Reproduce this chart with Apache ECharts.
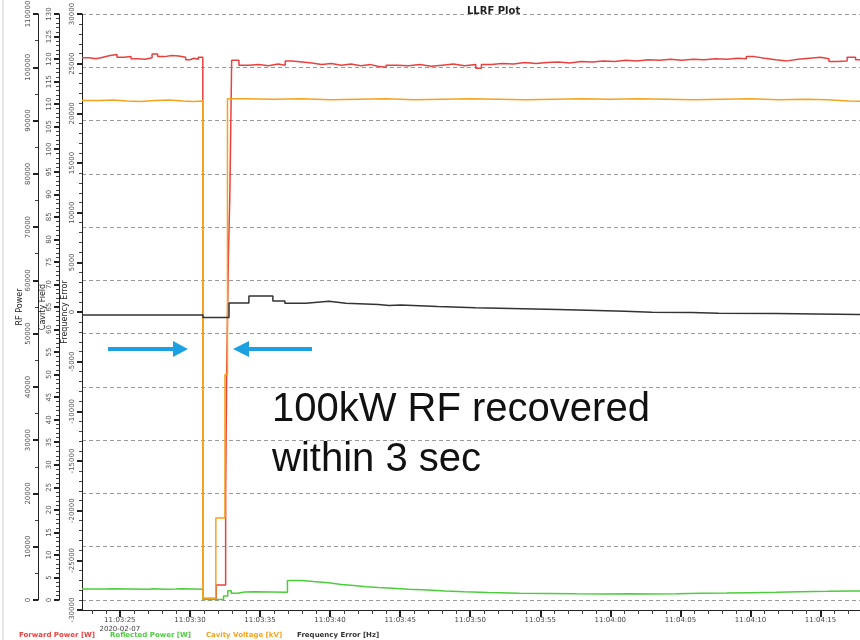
<!DOCTYPE html>
<html><head><meta charset="utf-8">
<script src="https://cdn.jsdelivr.net/npm/echarts@6/dist/echarts.min.js"></script>
<style>html,body{margin:0;padding:0;background:#fff}#c{width:860px;height:640px}</style>
</head><body><div id="c"></div>
<script>
// ---------------- data ----------------
const chartTitle = 'LLRF Plot';
const seriesNames = ['Forward Power [W]', 'Reflected Power [W]', 'Cavity Voltage [kV]', 'Frequency Error [Hz]'];
const axisNames = ['RF Power', 'Cavity Field', 'Frequency Error'];
const dateLabel = '2020-02-07';
// time in seconds after 11:03:00
const xMajorTicks = [25, 30, 35, 40, 45, 50, 55, 60, 65, 70, 75, 80];
const annotationText = '100kW RF recovered\nwithin 3 sec';

const forwardPower = [
  [22.3,101800],[22.8,101600],[23.3,101900],[23.8,102200],[24.3,102400],[24.8,101900],[25.3,102000],
  [25.8,101600],[26.3,101500],[26.8,101800],[27.3,102500],[27.7,102000],[28.2,102200],[28.7,102100],
  [29.2,101900],[29.7,101400],[30.0,101700],[30.3,101500],[30.6,101900],
  [30.92,300],[31.88,2800],[32.55,20000],[32.62,42000],[32.75,65000],[32.85,76000],[32.98,101300],
  [33.5,100400],[34.2,100500],[34.9,100300],[35.6,100600],[36.3,100400],[36.8,101200],[37.3,101000],
  [38.0,100800],[38.7,100500],[39.4,100700],[40.1,100400],[40.8,100600],[41.5,100300],[42.2,100500],
  [42.9,100200],[43.4,100000],[44.0,100400],[44.8,100300],[45.6,100500],[46.4,100200],[47.2,100400],
  [48.0,100600],[48.8,100300],[49.6,100500],[50.4,99800],[50.8,100500],[51.5,100700],[52.3,100600],
  [53.1,100900],[53.9,100700],[54.7,100900],[55.5,101000],[56.3,100800],[57.1,101100],[57.9,101000],
  [58.7,101200],[59.5,101100],[60.3,101300],[61.1,101200],[61.9,101400],[62.7,101300],[63.5,101500],
  [64.3,101300],[65.1,101500],[65.9,101400],[66.7,101600],[67.5,101500],[68.3,101700],[69.1,101600],
  [69.7,102000],[70.3,101700],[71.0,101400],[71.8,101200],[72.6,101500],[73.4,101700],[74.2,101900],
  [75.0,101600],[75.6,101100],[76.2,101200],[76.9,101900],[77.5,101400],[78.2,101500],[79.0,101400],[80.1,101400]
];

const reflectedPower = [
  [22.3,2050],[24.0,2100],[24.5,2000],[27.0,2100],[27.4,2000],[28.3,2050],[29.0,2100],[29.4,2000],
  [30.92,100],[32.4,750],[32.7,1750],[32.95,1250],[33.4,1500],[33.9,1550],[34.6,1450],
  [36.96,3650],[38.0,3450],[38.8,3250],[39.9,2900],[40.8,2700],[41.7,2500],[42.6,2330],[43.45,2190],
  [44.5,2020],[45.6,1880],[46.98,1690],[48.2,1540],[49.6,1390],[51.26,1250],[53.5,1200],[55.5,1150],
  [57.6,1130],[59.5,1150],[61.5,1120],[63.0,1180],[64.7,1250],[66.5,1300],[68.3,1380],[70.0,1450],
  [71.8,1560],[73.5,1620],[75.5,1700],[77.5,1750],[80.1,1780]
];

const cavityVoltage = [
  [22.3,110.8],[23.5,110.9],[24.5,110.7],[25.5,110.6],[26.5,110.8],[27.5,110.9],[28.5,110.7],
  [29.5,110.6],[30.2,110.7],[30.92,0.4],[31.85,18.2],[32.5,50],[32.68,111.2],[34,111.1],[36,111.2],
  [38,111.0],[40,111.1],[42,111.2],[44,111.0],[46,111.1],[48,111.2],[50,111.1],[52,111.0],[54,111.1],
  [56,111.2],[58,111.1],[60,111.2],[62,111.1],[64,111.0],[66,111.1],[68,111.2],[70,111.0],[72,111.1],
  [74,111.0],[75.5,110.7],[77,110.6],[78.5,110.7],[80.1,110.7]
];

const frequencyError = [
  [22.3,-300],[30.93,-550],[32.79,900],[34.21,1600],[35.92,1100],[36.78,880],[38.28,1080],[39.92,880],
  [41.13,750],[43.45,650],[44.2,700],[45.05,550],[47.69,420],[50.37,320],[53.75,250],[56.25,150],
  [59.03,80],[61.03,-20],[62.96,-50],[65.81,-120],[67.73,-150],[71.84,-190],[74.66,-290],[80.1,-290]
];

// ---------------- chart ----------------
const X_MIN = 22.3, X_MAX = 80.1;
const FONT = 'DejaVu Sans';
const colors = ['#e8423f', '#4ccd3c', '#f5a31f', '#333333'];
const xMinorTicks = [];
for (let s = 23; s <= 80; s++) xMinorTicks.push(s);

function fmtTime(v) {
  const m = 3 + Math.floor(v / 60);
  const s = Math.round(v % 60);
  const txt = '11:' + String(m).padStart(2, '0') + ':' + String(s).padStart(2, '0');
  return v === xMajorTicks[0] ? txt + '\n' + dateLabel : txt;
}

function yAxisCfg(grid, min, max, interval, offset, name, gap, minorSplit, split) {
  return {
    gridIndex: grid, type: 'value', min: min, max: max, interval: interval,
    position: 'left', offset: offset,
    name: name, nameLocation: 'middle', nameGap: gap, nameRotate: 90, nameMoveOverlap: false,
    nameTextStyle: { fontSize: 8, color: '#222', fontFamily: FONT },
    axisLine: { show: true, onZero: false, lineStyle: { color: '#222', width: 1 } },
    axisTick: { show: true, length: 5, lineStyle: { color: '#222', width: 2 } },
    minorTick: { show: true, splitNumber: minorSplit, length: 3, lineStyle: { color: '#444', width: 1 } },
    axisLabel: { show: true, rotate: 90, fontSize: 7, color: '#555', margin: 6, fontFamily: FONT,
                 formatter: v => String(v) },
    splitLine: { show: split, lineStyle: { type: [4, 3], color: '#9a9a9a', width: 1 } },
    minorSplitLine: { show: false }
  };
}

const chart = echarts.init(document.getElementById('c'), null, { renderer: 'canvas' });
chart.setOption({
  animation: false,
  backgroundColor: '#ffffff',
  title: { text: chartTitle, left: 462, top: 1, textStyle: { fontSize: 10, fontWeight: 'bold', color: '#222', fontFamily: FONT } },
  legend: {
    left: 14, bottom: 1, padding: 0, itemWidth: 0, itemHeight: 0, itemGap: 10, icon: 'none',
    textStyle: { fontSize: 7, fontWeight: 'bold', fontFamily: FONT },
    data: seriesNames.map((n, i) => ({ name: n, textStyle: { color: colors[i] } }))
  },
  grid: [
    { left: 82, top: 14, width: 810, bottom: 40, outerBoundsMode: 'none', containLabel: false },
    { left: 82, top: 14, width: 810, bottom: 30, outerBoundsMode: 'none', containLabel: false }
  ],
  xAxis: [
    { gridIndex: 0, type: 'value', min: X_MIN, max: X_MAX, show: false },
    { gridIndex: 1, type: 'value', min: X_MIN, max: X_MAX, position: 'bottom',
      axisLine: { show: true, onZero: false, lineStyle: { color: '#222', width: 1 } },
      axisTick: { show: true, customValues: xMinorTicks, length: 4, lineStyle: { color: '#444', width: 1 } },
      axisLabel: { show: false }, splitLine: { show: false } },
    { gridIndex: 1, type: 'value', min: X_MIN, max: X_MAX, position: 'bottom',
      axisLine: { show: false, onZero: false },
      axisTick: { show: true, customValues: xMajorTicks, length: 7, lineStyle: { color: '#222', width: 2 } },
      axisLabel: { show: true, customValues: xMajorTicks, interval: 0, formatter: fmtTime, fontSize: 7, color: '#444', margin: 6, fontFamily: FONT, lineHeight: 9 },
      splitLine: { show: false } }
  ],
  yAxis: [
    yAxisCfg(0, 0, 110000, 10000, 44, axisNames[0], 14, 2, true),
    yAxisCfg(0, 0, 130, 5, 23, axisNames[1], 12, 5, false),
    yAxisCfg(1, -30000, 30000, 5000, 0, axisNames[2], 13, 5, false)
  ],
  series: [
    { name: seriesNames[0], type: 'line', xAxisIndex: 0, yAxisIndex: 0, data: forwardPower, step: 'end', symbol: 'none',
      lineStyle: { color: colors[0], width: 1.5 }, itemStyle: { color: colors[0] } },
    { name: seriesNames[1], type: 'line', xAxisIndex: 0, yAxisIndex: 0, data: reflectedPower, step: 'end', symbol: 'none',
      lineStyle: { color: colors[1], width: 1.5 }, itemStyle: { color: colors[1] } },
    { name: seriesNames[2], type: 'line', xAxisIndex: 0, yAxisIndex: 1, data: cavityVoltage, step: 'end', symbol: 'none',
      lineStyle: { color: colors[2], width: 1.5 }, itemStyle: { color: colors[2] } },
    { name: seriesNames[3], type: 'line', xAxisIndex: 1, yAxisIndex: 2, data: frequencyError, step: 'end', symbol: 'none',
      lineStyle: { color: colors[3], width: 1.5 }, itemStyle: { color: colors[3] } }
  ],
  graphic: [
    { type: 'line', shape: { x1: 3, y1: 0, x2: 3, y2: 640 }, style: { stroke: '#d0d0d0', lineWidth: 1 } },
    { type: 'line', shape: { x1: 108, y1: 349, x2: 176, y2: 349 }, style: { stroke: '#1ba1e2', lineWidth: 4 } },
    { type: 'polygon', shape: { points: [[188, 349], [173, 341], [173, 357]] }, style: { fill: '#1ba1e2' } },
    { type: 'line', shape: { x1: 246, y1: 349, x2: 312, y2: 349 }, style: { stroke: '#1ba1e2', lineWidth: 4 } },
    { type: 'polygon', shape: { points: [[233, 349], [249, 341], [249, 357]] }, style: { fill: '#1ba1e2' } },
    { type: 'text', x: 272, y: 385, style: { text: annotationText, fontSize: 40, fontFamily: 'Liberation Sans', fill: '#111', lineHeight: 50, verticalAlign: 'top' } }
  ]
});
</script>
</body></html>
